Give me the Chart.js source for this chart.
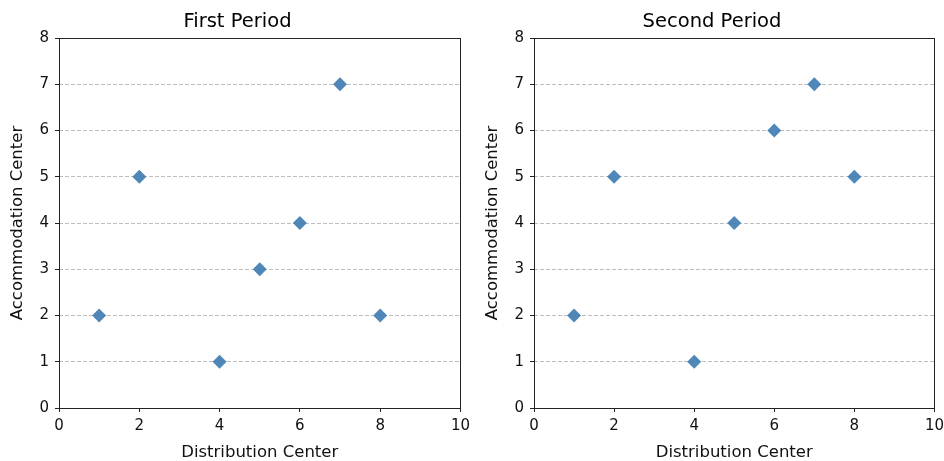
<!DOCTYPE html>
<html>
<head>
<meta charset="utf-8">
<script src="https://cdn.jsdelivr.net/npm/chart.js@4/dist/chart.umd.min.js"></script>
<style>
html,body{margin:0;padding:0;background:#fff;overflow:hidden;}
#wrap{position:relative;width:944px;height:461px;overflow:hidden;}
.c{position:absolute;top:0;}
</style>
</head>
<body>
<div id="wrap">
  <div class="c" style="left:0;width:475px;height:461px;"><canvas id="c1"></canvas></div>
  <div class="c" style="left:475px;width:474px;height:461px;"><canvas id="c2"></canvas></div>
</div>
<script>
const titles = ["First Period", "Second Period"];
const xLabel = "Distribution Center";
const yLabel = "Accommodation Center";
const xTicks = [0, 2, 4, 6, 8, 10];
const yTicks = [0, 1, 2, 3, 4, 5, 6, 7, 8];

const firstX = [1, 2, 4, 5, 6, 7, 8];
const firstY = [2, 5, 1, 3, 4, 7, 2];
const secondX = [1, 2, 4, 5, 6, 7, 8];
const secondY = [2, 5, 1, 4, 6, 7, 5];

const FONT = "'DejaVu Sans', sans-serif";

const boxPlugin = {
  id: 'box',
  afterDraw(chart) {
    const a = chart.chartArea, ctx = chart.ctx;
    ctx.save();
    ctx.strokeStyle = '#222';
    ctx.lineWidth = 1;
    ctx.strokeRect(Math.round(a.left) + 0.5, Math.round(a.top) + 0.5,
                   Math.round(a.right - a.left), Math.round(a.bottom - a.top));
    ctx.restore();
  }
};

function makeChart(id, title, xs, ys) {
  const pts = xs.map((x, i) => ({x: x, y: ys[i]}));
  return new Chart(document.getElementById(id), {
    type: 'scatter',
    data: {
      datasets: [{
        data: pts,
        pointStyle: 'rectRot',
        pointRadius: 7,
        pointHoverRadius: 7,
        backgroundColor: 'rgba(70,130,180,0.95)',
        borderColor: 'rgba(70,130,180,0.95)',
        borderWidth: 0
      }]
    },
    options: {
      responsive: true,
      maintainAspectRatio: false,
      animation: false,
      events: [],
      layout: {padding: {left: 0, right: 0, top: 0, bottom: 0}},
      plugins: {
        legend: {display: false},
        tooltip: {enabled: false},
        title: {
          display: true,
          text: title,
          color: '#000',
          font: {family: FONT, size: 19.5, weight: 'normal', lineHeight: 1.2},
          padding: {top: 10, bottom: 4.6}
        }
      },
      scales: {
        x: {
          type: 'linear',
          min: 0, max: 10,
          afterBuildTicks(s) { s.ticks = xTicks.map(v => ({value: v})); },
          afterFit(s) { s.height = 53; },
          grid: {display: true, drawOnChartArea: false, drawTicks: true, tickLength: 4, tickColor: '#222', color: '#222'},
          border: {display: false},
          ticks: {color: '#111', font: {family: FONT, size: 15}, padding: 5, maxRotation: 0, autoSkip: false},
          title: {display: true, text: xLabel, color: '#111', font: {family: FONT, size: 16.5}, padding: {top: 0, bottom: -2}}
        },
        y: {
          type: 'linear',
          min: 0, max: 8,
          afterBuildTicks(s) { s.ticks = yTicks.map(v => ({value: v})); },
          afterFit(s) { s.width = 59; },
          grid: {display: true, drawOnChartArea: true, drawTicks: true, tickLength: 4,
                 color: '#bdbdbd', lineWidth: 1,
                 tickColor: '#222', tickBorderDash: [], tickWidth: 1},
          border: {display: false, dash: [4, 2]},
          ticks: {color: '#111', font: {family: FONT, size: 15}, padding: 6, autoSkip: false},
          title: {display: true, text: yLabel, color: '#111', font: {family: FONT, size: 16.5}, padding: {top: 8, bottom: 2}}
        }
      }
    },
    plugins: [boxPlugin]
  });
}

makeChart('c1', titles[0], firstX, firstY);
makeChart('c2', titles[1], secondX, secondY);
</script>
</body>
</html>
